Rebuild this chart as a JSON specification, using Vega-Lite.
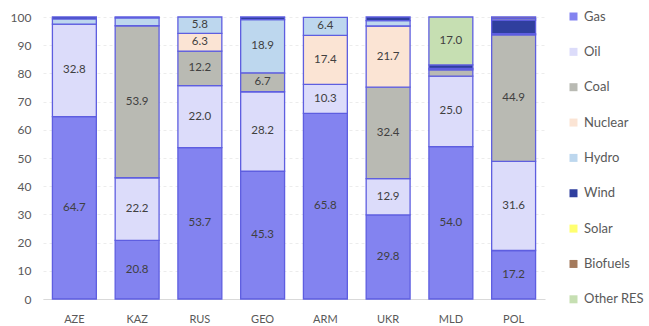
{
  "$schema": "https://vega.github.io/schema/vega-lite/v6.json",
  "width": 502,
  "height": 282,
  "autosize": {"type": "none"},
  "padding": {"left": 43, "top": 17, "right": 104, "bottom": 27},
  "background": "white",
  "config": {
    "font": "Lato",
    "view": {"stroke": null},
    "axis": {"labelColor": "#595959", "labelFont": "Lato", "titleColor": "#595959"},
    "axisY": {
      "title": null,
      "labelOverlap": false,
      "labelFontSize": 12,
      "labelPadding": 12,
      "ticks": false,
      "domain": false,
      "grid": true,
      "gridColor": "#ececec",
      "gridDash": [3, 3]
    }
  },
  "data": {
    "values": [
      {"country": "AZE", "source": "Gas", "k": 1, "value": 64.7},
      {"country": "AZE", "source": "Oil", "k": 2, "value": 32.8},
      {"country": "AZE", "source": "Hydro", "k": 5, "value": 1.8},
      {"country": "AZE", "source": "Wind", "k": 6, "value": 0.7},

      {"country": "KAZ", "source": "Gas", "k": 1, "value": 20.8},
      {"country": "KAZ", "source": "Oil", "k": 2, "value": 22.2},
      {"country": "KAZ", "source": "Coal", "k": 3, "value": 53.9},
      {"country": "KAZ", "source": "Hydro", "k": 5, "value": 2.8},
      {"country": "KAZ", "source": "Wind", "k": 6, "value": 0.3},

      {"country": "RUS", "source": "Gas", "k": 1, "value": 53.7},
      {"country": "RUS", "source": "Oil", "k": 2, "value": 22.0},
      {"country": "RUS", "source": "Coal", "k": 3, "value": 12.2},
      {"country": "RUS", "source": "Nuclear", "k": 4, "value": 6.3},
      {"country": "RUS", "source": "Hydro", "k": 5, "value": 5.8},

      {"country": "GEO", "source": "Gas", "k": 1, "value": 45.3},
      {"country": "GEO", "source": "Oil", "k": 2, "value": 28.2},
      {"country": "GEO", "source": "Coal", "k": 3, "value": 6.7},
      {"country": "GEO", "source": "Hydro", "k": 5, "value": 18.9},
      {"country": "GEO", "source": "Wind", "k": 6, "value": 0.9},

      {"country": "ARM", "source": "Gas", "k": 1, "value": 65.8},
      {"country": "ARM", "source": "Oil", "k": 2, "value": 10.3},
      {"country": "ARM", "source": "Nuclear", "k": 4, "value": 17.4},
      {"country": "ARM", "source": "Hydro", "k": 5, "value": 6.4},

      {"country": "UKR", "source": "Gas", "k": 1, "value": 29.8},
      {"country": "UKR", "source": "Oil", "k": 2, "value": 12.9},
      {"country": "UKR", "source": "Coal", "k": 3, "value": 32.4},
      {"country": "UKR", "source": "Nuclear", "k": 4, "value": 21.7},
      {"country": "UKR", "source": "Hydro", "k": 5, "value": 1.9},
      {"country": "UKR", "source": "Wind", "k": 6, "value": 1.3},

      {"country": "MLD", "source": "Gas", "k": 1, "value": 54.0},
      {"country": "MLD", "source": "Oil", "k": 2, "value": 25.0},
      {"country": "MLD", "source": "Coal", "k": 3, "value": 2.3},
      {"country": "MLD", "source": "Hydro", "k": 5, "value": 0.5},
      {"country": "MLD", "source": "Wind", "k": 6, "value": 1.2},
      {"country": "MLD", "source": "Other RES", "k": 9, "value": 17.0},

      {"country": "POL", "source": "Gas", "k": 1, "value": 17.2},
      {"country": "POL", "source": "Oil", "k": 2, "value": 31.6},
      {"country": "POL", "source": "Coal", "k": 3, "value": 44.9},
      {"country": "POL", "source": "Hydro", "k": 5, "value": 0.4},
      {"country": "POL", "source": "Wind", "k": 6, "value": 4.8},
      {"country": "POL", "source": "Solar", "k": 7, "value": 0.5},
      {"country": "POL", "source": "Biofuels", "k": 8, "value": 0.6}
    ]
  },
  "transform": [
    {"stack": "value", "groupby": ["country"], "sort": [{"field": "k", "order": "ascending"}], "as": ["y0", "y1"]},
    {"calculate": "(datum.y0 + datum.y1) / 2", "as": "ymid"}
  ],
  "encoding": {
    "x": {
      "field": "country",
      "type": "nominal",
      "sort": ["AZE", "KAZ", "RUS", "GEO", "ARM", "UKR", "MLD", "POL"],
      "scale": {"paddingInner": 0.3, "paddingOuter": 0.15},
      "axis": {
        "title": null,
        "labelAngle": 0,
        "labelFontSize": 11,
        "labelPadding": 14,
        "ticks": false,
        "domainColor": "#d9d9d9",
        "domainWidth": 1
      }
    }
  },
  "layer": [
    {
      "mark": {"type": "bar", "stroke": "#5e5ee0", "strokeWidth": 1.3},
      "encoding": {
        "y": {
          "field": "y0",
          "type": "quantitative",
          "title": null,
          "scale": {"domain": [0, 100], "nice": false},
          "axis": {"values": [0, 10, 20, 30, 40, 50, 60, 70, 80, 90, 100]}
        },
        "y2": {"field": "y1"},
        "color": {
          "field": "source",
          "type": "nominal",
          "scale": {
            "domain": ["Gas", "Oil", "Coal", "Nuclear", "Hydro", "Wind", "Solar", "Biofuels", "Other RES"],
            "range": ["#8383f0", "#dcdcfa", "#b9bab3", "#fbe4d4", "#bdd7ee", "#2f3f9e", "#ffff70", "#a47a5c", "#c6dfb2"]
          },
          "legend": {
            "title": null,
            "orient": "none",
            "legendX": 524,
            "legendY": -7,
            "symbolType": "square",
            "symbolSize": 64,
            "symbolStrokeWidth": 0,
            "labelFontSize": 13,
            "labelColor": "#595959",
            "labelFont": "Lato",
            "labelOffset": 4,
            "rowPadding": 21.35
          }
        }
      }
    },
    {
      "transform": [{"filter": "datum.value >= 5"}],
      "mark": {"type": "text", "fontSize": 11.5, "color": "#404040", "font": "Lato"},
      "encoding": {
        "y": {
          "field": "ymid",
          "type": "quantitative",
          "title": null,
          "axis": {"values": [0, 10, 20, 30, 40, 50, 60, 70, 80, 90, 100]}
        },
        "text": {"field": "value", "type": "quantitative", "format": ".1f"}
      }
    }
  ]
}
